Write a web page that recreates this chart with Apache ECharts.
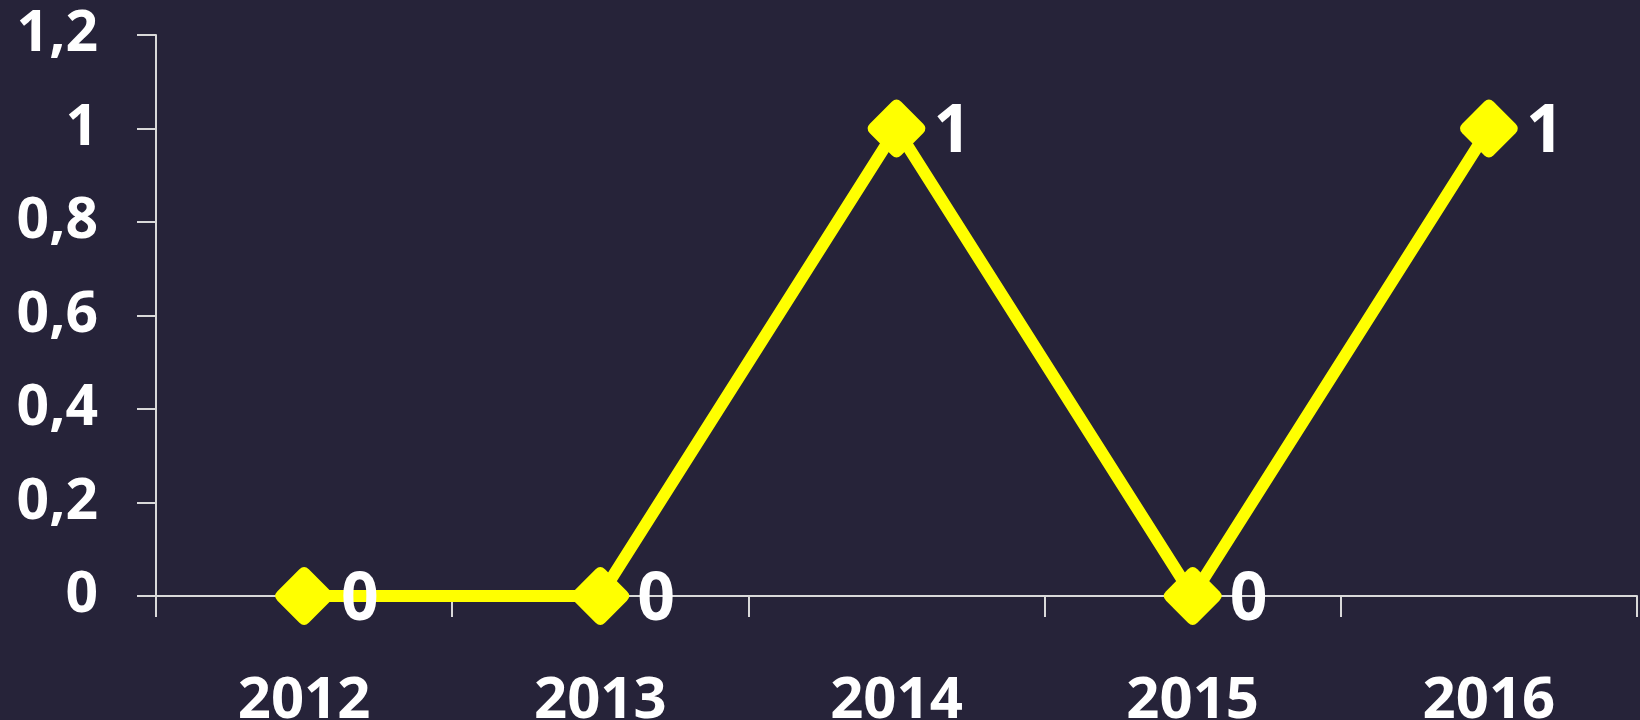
<!DOCTYPE html>
<html>
<head>
<meta charset="utf-8">
<script src="https://cdn.jsdelivr.net/npm/echarts@6/dist/echarts.min.js"></script>
<style>
html,body{margin:0;padding:0;background:#262339;}
#c{width:1640px;height:720px;}
</style>
</head>
<body>
<div id="c"></div>
<script>
const categories = ['2012', '2013', '2014', '2015', '2016'];
const values = [0, 0, 1, 0, 1];
const yTicks = { min: 0, max: 1.2, interval: 0.2 };

const chart = echarts.init(document.getElementById('c'));
const font = '"Open Sans", "Noto Sans", sans-serif';
chart.setOption({
  backgroundColor: '#262339',
  animation: false,
  grid: { left: 156, right: 3, top: 35, bottom: 124, containLabel: false, outerBoundsMode: 'none' },
  xAxis: {
    type: 'category',
    data: categories,
    boundaryGap: true,
    axisLine: { lineStyle: { color: '#d9d9d9', width: 2 } },
    axisTick: { show: true, length: 21, inside: false, alignWithLabel: false, lineStyle: { color: '#d9d9d9', width: 2 } },
    axisLabel: { color: '#ffffff', fontFamily: font, fontWeight: 'bold', fontSize: 58, margin: 76 },
    splitLine: { show: false }
  },
  yAxis: {
    type: 'value',
    min: yTicks.min, max: yTicks.max, interval: yTicks.interval,
    axisLine: { show: true, lineStyle: { color: '#d9d9d9', width: 2 } },
    axisTick: { show: true, length: 19, lineStyle: { color: '#d9d9d9', width: 2 } },
    axisLabel: {
      color: '#ffffff', fontFamily: font, fontWeight: 'bold', fontSize: 57, margin: 58,
      formatter: v => String(Math.round(v * 10) / 10).replace('.', ',')
    },
    splitLine: { show: false }
  },
  series: [{
    type: 'line',
    data: values,
    lineStyle: { color: '#ffff00', width: 12 },
    itemStyle: { color: '#ffff00' },
    symbol: 'path://M-15,-85Q0,-100,15,-85L85,-15Q100,0,85,15L15,85Q0,100,-15,85L-85,15Q-100,0,-85,-15Z',
    symbolSize: 58,
    label: {
      show: true, position: 'right', distance: 8, offset: [0, 5],
      color: '#ffffff', fontFamily: font, fontWeight: 'bold', fontSize: 66
    }
  }]
});
</script>
</body>
</html>
